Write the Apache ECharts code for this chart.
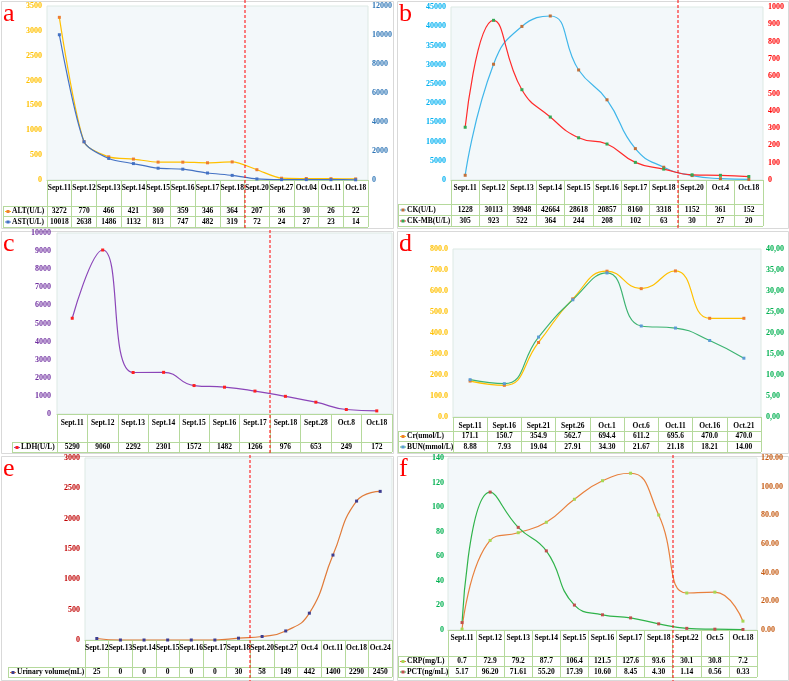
<!DOCTYPE html>
<html>
<head>
<meta charset="utf-8">
<script src="https://cdn.jsdelivr.net/npm/echarts@6/dist/echarts.min.js"></script>
<style>
html, body { margin: 0; padding: 0; background: #fff; }
#main { width: 789px; height: 681px; }
</style>
</head>
<body>
<div id="main"></div>
<script>
// a - ALT / AST
const catsA = ['Sept.11', 'Sept.12', 'Sept.13', 'Sept.14', 'Sept.15', 'Sept.16', 'Sept.17', 'Sept.18', 'Sept.20', 'Sept.27', 'Oct.04', 'Oct.11', 'Oct.18'];
const altA = ['3272', '770', '466', '421', '360', '359', '346', '364', '207', '36', '30', '26', '22'];
const astA = ['10018', '2638', '1486', '1132', '813', '747', '482', '319', '72', '24', '27', '23', '14'];
// b - CK / CK-MB
const catsB = ['Sept.11', 'Sept.12', 'Sept.13', 'Sept.14', 'Sept.15', 'Sept.16', 'Sept.17', 'Sept.18', 'Sept.20', 'Oct.4', 'Oct.18'];
const ckB = ['1228', '30113', '39948', '42664', '28618', '20857', '8160', '3318', '1152', '361', '152'];
const ckmbB = ['305', '923', '522', '364', '244', '208', '102', '63', '30', '27', '20'];
// c - LDH
const catsC = ['Sept.11', 'Sept.12', 'Sept.13', 'Sept.14', 'Sept.15', 'Sept.16', 'Sept.17', 'Sept.18', 'Sept.28', 'Oct.8', 'Oct.18'];
const ldhC = ['5290', '9060', '2292', '2301', '1572', '1482', '1266', '976', '653', '249', '172'];
// d - Cr / BUN
const catsD = ['Sept.11', 'Sept.16', 'Sept.21', 'Sept.26', 'Oct.1', 'Oct.6', 'Oct.11', 'Oct.16', 'Oct.21'];
const crD = ['171.1', '150.7', '354.9', '562.7', '694.4', '611.2', '695.6', '470.0', '470.0'];
const bunD = ['8.88', '7.93', '19.04', '27.91', '34.30', '21.67', '21.18', '18.21', '14.00'];
// e - urinary volume
const catsE = ['Sept.12', 'Sept.13', 'Sept.14', 'Sept.15', 'Sept.16', 'Sept.17', 'Sept.18', 'Sept.20', 'Sept.27', 'Oct.4', 'Oct.11', 'Oct.18', 'Oct.24'];
const urineE = ['25', '0', '0', '0', '0', '0', '30', '58', '149', '442', '1400', '2290', '2450'];
// f - CRP / PCT
const catsF = ['Sept.11', 'Sept.12', 'Sept.13', 'Sept.14', 'Sept.15', 'Sept.16', 'Sept.17', 'Sept.18', 'Sept.22', 'Oct.5', 'Oct.18'];
const crpF = ['0.7', '72.9', '79.2', '87.7', '106.4', '121.5', '127.6', '93.6', '30.1', '30.8', '7.2'];
const pctF = ['5.17', '96.20', '71.61', '55.20', '17.39', '10.60', '8.45', '4.30', '1.14', '0.56', '0.33'];

const font = '"Liberation Serif", "Times New Roman", serif';
const tableLine = '#b5d99c';
const plain = v => String(v);

// layout of the six panels
const panels = [
    {
        letter: 'a', box: [1, 1, 392, 227], left: 47, top: 6, width: 321, height: 174,
        table: [206, 216, 227], legendX: 3, dash: 8, catMargin: 4.5, cats: catsA,
        yAxes: [
            { max: 3500, interval: 500, color: '#ffc000', margin: 5 },
            { max: 12000, interval: 2000, color: '#2e75b6', margin: 4 }
        ],
        rows: [
            { name: 'ALT(U/L)', vals: altA, line: '#ffc000', mark: '#ed7d31', axis: 0, smooth: 0.25 },
            { name: 'AST(U/L)', vals: astA, line: '#4472c4', mark: '#4472c4', axis: 1, smooth: 0.25 }
        ]
    },
    {
        letter: 'b', box: [397, 1, 391, 227], left: 451, top: 7, width: 312, height: 173,
        table: [204, 215, 226], legendX: 398, dash: 8, catMargin: 4.5, cats: catsB,
        yAxes: [
            { max: 45000, interval: 5000, color: '#00b0f0', margin: 5 },
            { max: 1000, interval: 100, color: '#ff0000', margin: 5 }
        ],
        rows: [
            { name: 'CK(U/L)', vals: ckB, line: '#3fb6ea', mark: '#c0703a', axis: 0, smooth: 0.5 },
            { name: 'CK-MB(U/L)', vals: ckmbB, line: '#ff2a2a', mark: '#33a853', axis: 1, smooth: 0.5 }
        ]
    },
    {
        letter: 'c', box: [1, 231, 392, 222], left: 57, top: 233, width: 335, height: 181,
        table: [442, 452], legendX: 12, dash: 7, catMargin: 5.5, cats: catsC,
        yAxes: [
            { max: 10000, interval: 1000, color: '#7030a0', margin: 6 }
        ],
        rows: [
            { name: 'LDH(U/L)', vals: ldhC, line: '#8b45b8', mark: '#ff2020', axis: 0, smooth: 0.5 }
        ]
    },
    {
        letter: 'd', box: [397, 231, 391, 222], left: 453, top: 249, width: 308, height: 168,
        table: [431, 441, 452], legendX: 398, dash: null, catMargin: 5.5, cats: catsD,
        yAxes: [
            { max: 800, interval: 100, color: '#ffc000', margin: 5, fmt: v => v.toFixed(1) },
            { max: 40, interval: 5, color: '#00b050', margin: 5, fmt: v => v.toFixed(2).replace('.', ',') }
        ],
        rows: [
            { name: 'Cr(umol/L)', vals: crD, line: '#ffc000', mark: '#ed7d31', axis: 0, smooth: 0.5 },
            { name: 'BUN(mmol/L)', vals: bunD, line: '#3cb371', mark: '#5b9bd5', axis: 1, smooth: 0.5 }
        ]
    },
    {
        letter: 'e', box: [1, 456, 392, 224], left: 85, top: 458, width: 307, height: 182,
        table: [667, 677], legendX: 8, dash: 7, catMargin: 4.5, cats: catsE,
        yAxes: [
            { max: 3000, interval: 500, color: '#c00000', margin: 5 }
        ],
        rows: [
            { name: 'Urinary volume(mL)', vals: urineE, line: '#e07b39', mark: '#3d3d8f', axis: 0, smooth: 0.5 }
        ]
    },
    {
        letter: 'f', box: [397, 456, 391, 224], left: 448, top: 458, width: 309, height: 172,
        table: [656, 666, 677], legendX: 398, dash: 8, catMargin: 4.5, cats: catsF,
        yAxes: [
            { max: 140, interval: 20, color: '#00b050', margin: 4 },
            { max: 120, interval: 20, color: '#c55a11', margin: 4, fmt: v => v.toFixed(2) }
        ],
        rows: [
            { name: 'CRP(mg/L)', vals: crpF, line: '#e8803d', mark: '#a6d854', axis: 0, smooth: 0.5 },
            { name: 'PCT(ng/mL)', vals: pctF, line: '#2fb34a', mark: '#c0504d', axis: 1, smooth: 0.5 }
        ]
    }
];

const grids = [], xAxes = [], yAxes = [], series = [], graphics = [];

panels.forEach(function (p, gi) {
    const n = p.cats.length;
    const cw = p.width / n;
    const bottom = p.top + p.height;
    const tableBottom = p.table[p.table.length - 1];

    grids.push({
        left: p.left, top: p.top, width: p.width, height: p.height,
        show: true, backgroundColor: '#f3f8fa', borderColor: '#dde9e4', borderWidth: 1,
        outerBoundsMode: 'none'
    });

    // category axis; ticks go down through the table as its column lines
    xAxes.push({
        type: 'category', gridIndex: gi, data: p.cats, boundaryGap: true,
        axisLine: { lineStyle: { color: tableLine } },
        axisTick: { show: true, interval: 0, length: tableBottom - bottom, lineStyle: { color: tableLine } },
        axisLabel: { interval: 0, margin: p.catMargin, color: '#000', fontFamily: font, fontWeight: 'bold', fontSize: 7.5 }
    });

    const yBase = yAxes.length;
    p.yAxes.forEach(function (a, k) {
        yAxes.push({
            type: 'value', gridIndex: gi, position: k === 0 ? 'left' : 'right',
            min: 0, max: a.max, interval: a.interval,
            axisLine: { show: false }, axisTick: { show: false }, splitLine: { show: false },
            axisLabel: { color: a.color, fontFamily: font, fontWeight: 'bold', fontSize: 8, margin: a.margin, formatter: a.fmt || plain }
        });
    });

    p.rows.forEach(function (r) {
        series.push({
            type: 'line', name: r.name, xAxisIndex: gi, yAxisIndex: yBase + r.axis,
            data: r.vals.map(value => parseFloat(value)),
            smooth: r.smooth, symbol: 'rect', symbolSize: 3,
            lineStyle: { color: r.line, width: 1.2 },
            itemStyle: { color: r.mark },
            animation: false
        });
    });

    // panel frame and letter
    graphics.push({
        type: 'rect', silent: true, z: 0,
        shape: { x: p.box[0] + 0.5, y: p.box[1] + 0.5, width: p.box[2], height: p.box[3] },
        style: { fill: null, stroke: '#d9d9d9', lineWidth: 1 }
    });
    graphics.push({
        type: 'text', silent: true,
        style: {
            text: p.letter, x: p.box[0] + 2, y: p.box[1] + 13,
            fill: '#ff0000', font: '26px ' + font, verticalAlign: 'middle', textVerticalAlign: 'middle'
        }
    });

    // table lines
    p.table.forEach(function (y) {
        graphics.push({
            type: 'line', silent: true,
            shape: { x1: p.legendX, y1: y + 0.5, x2: p.left + p.width, y2: y + 0.5 },
            style: { stroke: tableLine, lineWidth: 1 }
        });
    });
    graphics.push({
        type: 'line', silent: true,
        shape: { x1: p.legendX + 0.5, y1: p.table[0], x2: p.legendX + 0.5, y2: tableBottom },
        style: { stroke: tableLine, lineWidth: 1 }
    });
    graphics.push({
        type: 'line', silent: true,
        shape: { x1: p.left + 0.5, y1: p.table[0], x2: p.left + 0.5, y2: tableBottom },
        style: { stroke: tableLine, lineWidth: 1 }
    });

    // table rows: legend key + values
    p.rows.forEach(function (r, ri) {
        const yc = (p.table[ri] + p.table[ri + 1]) / 2 + 0.5;
        graphics.push({
            type: 'line', silent: true,
            shape: { x1: p.legendX + 2, y1: yc, x2: p.legendX + 8, y2: yc },
            style: { stroke: r.line, lineWidth: 1 }
        });
        graphics.push({
            type: 'rect', silent: true,
            shape: { x: p.legendX + 3.5, y: yc - 1.5, width: 3, height: 3 },
            style: { fill: r.mark }
        });
        graphics.push({
            type: 'text', silent: true,
            style: {
                text: r.name, x: p.legendX + 9, y: yc, fill: '#000', font: 'bold 7.5px ' + font,
                align: 'left', textAlign: 'left', verticalAlign: 'middle', textVerticalAlign: 'middle'
            }
        });
        r.vals.forEach(function (v, i) {
            graphics.push({
                type: 'text', silent: true,
                style: {
                    text: v, x: p.left + (i + 0.5) * cw, y: yc, fill: '#000', font: 'bold 7.5px ' + font,
                    align: 'center', textAlign: 'center', verticalAlign: 'middle', textVerticalAlign: 'middle'
                }
            });
        });
    });

    // red dashed separator (on a category boundary)
    if (p.dash !== null) {
        const x = Math.round(p.left + p.dash * cw);
        graphics.push({
            type: 'line', silent: true, zlevel: 1,
            shape: { x1: x, y1: p.box[1] - 1, x2: x, y2: p.box[1] + p.box[3] + 1 },
            style: { stroke: '#ff0000', lineWidth: 1, lineDash: [3, 2] }
        });
    }
});

var chartDom = document.getElementById('main');
var myChart = echarts.init(chartDom);
var option = {
    animation: false,
    backgroundColor: '#ffffff',
    grid: grids,
    xAxis: xAxes,
    yAxis: yAxes,
    series: series,
    graphic: { elements: graphics }
};
option && myChart.setOption(option);
</script>
</body>
</html>
